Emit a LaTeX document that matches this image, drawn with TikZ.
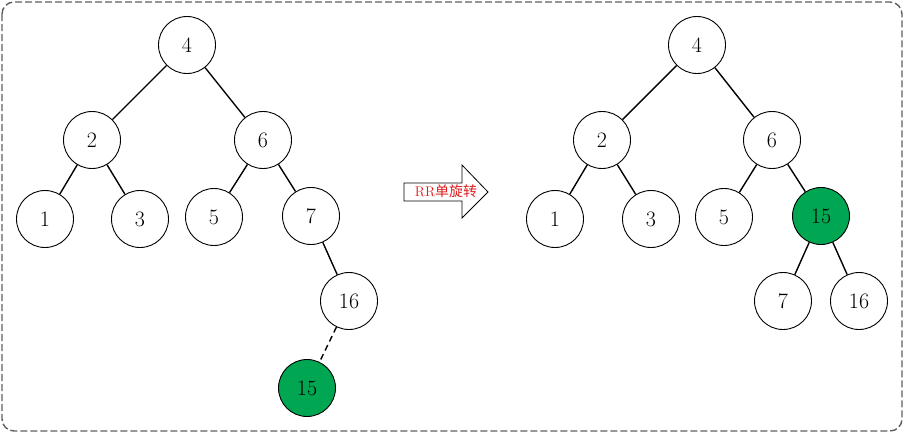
\documentclass[tikz,border=0pt]{standalone}
\usepackage{fontspec}
\newfontfamily\cjk{Noto Sans CJK SC}
\definecolor{nodegreen}{RGB}{0,166,81}
\definecolor{framegray}{RGB}{95,95,95}
\definecolor{labelred}{RGB}{220,30,30}
\tikzset{
  tn/.style={circle,draw=black,line width=0.9pt,minimum size=57pt,inner sep=0pt,fill=white,font=\fontsize{22}{26}\selectfont},
  gn/.style={tn,fill=nodegreen},
  edge/.style={line width=1.4pt,black},
  dedge/.style={edge,dash pattern=on 6pt off 4pt},
}
\begin{document}
\begin{tikzpicture}[x=1pt,y=-1pt]
\useasboundingbox (0,0) rectangle (904,434);
\draw[framegray,line width=1.4pt,dash pattern=on 7pt off 3pt,rounded corners=12pt] (2,2) rectangle (902,431);
% left tree
\node[tn] (a4) at (187,45) {4};
\node[tn] (a2) at (92,140) {2};
\node[tn] (a6) at (263,140) {6};
\node[tn] (a1) at (45,219) {1};
\node[tn] (a3) at (140,219) {3};
\node[tn] (a5) at (214,217) {5};
\node[tn] (a7) at (311,216) {7};
\node[tn] (a16) at (349,301) {16};
\node[gn] (a15) at (307,388) {15};
\draw[edge] (a4) -- (a2);
\draw[edge] (a4) -- (a6);
\draw[edge] (a2) -- (a1);
\draw[edge] (a2) -- (a3);
\draw[edge] (a6) -- (a5);
\draw[edge] (a6) -- (a7);
\draw[edge] (a7) -- (a16);
\draw[dedge] (a16) -- (a15);
% right tree
\node[tn] (b4) at (697,45) {4};
\node[tn] (b2) at (602,140) {2};
\node[tn] (b6) at (772,140) {6};
\node[tn] (b1) at (555,219) {1};
\node[tn] (b3) at (651,219) {3};
\node[tn] (b5) at (724,217) {5};
\node[gn] (b15) at (821,216) {15};
\node[tn] (b7) at (783,301) {7};
\node[tn] (b16) at (859,301) {16};
\draw[edge] (b4) -- (b2);
\draw[edge] (b4) -- (b6);
\draw[edge] (b2) -- (b1);
\draw[edge] (b2) -- (b3);
\draw[edge] (b6) -- (b5);
\draw[edge] (b6) -- (b15);
\draw[edge] (b15) -- (b7);
\draw[edge] (b15) -- (b16);
% arrow
\draw[line width=0.8pt,fill=white] (404,183) -- (462,183) -- (462,165) -- (488,192) -- (462,218) -- (462,201) -- (404,201) -- cycle;
\node[text=labelred,inner sep=0pt,font=\fontsize{14}{16}\selectfont] (lbl) at (446,191) {RR{\cjk 单旋转}};
\end{tikzpicture}
\end{document}
